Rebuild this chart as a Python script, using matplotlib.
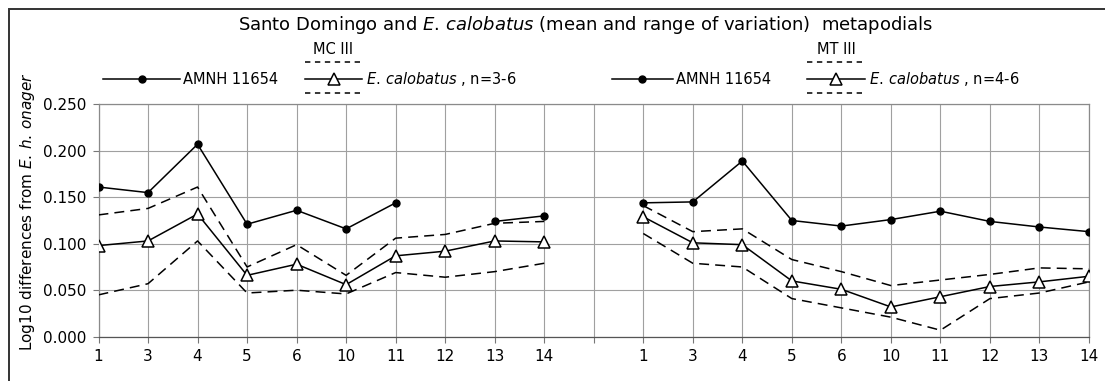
import numpy as np
import matplotlib
matplotlib.use("Agg")
import matplotlib.pyplot as plt
from matplotlib.lines import Line2D
from matplotlib.patches import Rectangle

plt.rcParams['font.family'] = ['DejaVu Sans']
plt.rcParams['mathtext.fontset'] = 'dejavusans'

# tooth / measurement numbers along the x axis (one blank slot between MC III and MT III)
mc_labels = ['1', '3', '4', '5', '6', '10', '11', '12', '13', '14']
mt_labels = ['1', '3', '4', '5', '6', '10', '11', '12', '13', '14']

# MC III
mc_amnh = [0.161, 0.155, 0.207, 0.121, 0.136, 0.116, 0.144, np.nan, 0.124, 0.130]
mc_mean = [0.098, 0.103, 0.132, 0.066, 0.078, 0.056, 0.087, 0.092, 0.103, 0.102]
mc_high = [0.131, 0.138, 0.161, 0.075, 0.099, 0.066, 0.106, 0.110, 0.122, 0.124]
mc_low = [0.045, 0.057, 0.103, 0.047, 0.050, 0.046, 0.069, 0.064, 0.070, 0.079]

# MT III
mt_amnh = [0.144, 0.145, 0.189, 0.125, 0.119, 0.126, 0.135, 0.124, 0.118, 0.113]
mt_mean = [0.129, 0.101, 0.099, 0.060, 0.051, 0.032, 0.043, 0.054, 0.059, 0.065]
mt_high = [0.141, 0.113, 0.116, 0.083, 0.070, 0.055, 0.061, 0.067, 0.074, 0.073]
mt_low = [0.111, 0.079, 0.075, 0.041, 0.031, 0.021, 0.007, 0.041, 0.047, 0.059]

W, H = 1105, 381
fig = plt.figure(figsize=(W / 100, H / 100), dpi=100)


def px(x, y):
    # pixel position (from top-left) -> figure fraction
    return x / W, 1 - y / H


ax = fig.add_axes([98.5 / W, 1 - 336.7 / H, (1089 - 98.5) / W, (336.7 - 104.3) / H])

tick_labels = mc_labels + [''] + mt_labels
x_all = np.arange(len(tick_labels))
x_mc = x_all[:len(mc_labels)]
x_mt = x_all[len(mc_labels) + 1:]

lw = 1.1
dash = (0, (6.5, 4))
for xs, amnh, mean, hi, lo in [(x_mc, mc_amnh, mc_mean, mc_high, mc_low),
                               (x_mt, mt_amnh, mt_mean, mt_high, mt_low)]:
    ax.plot(xs, hi, color='black', lw=lw, ls=dash, zorder=3)
    ax.plot(xs, lo, color='black', lw=lw, ls=dash, zorder=3)
    ax.plot(xs, mean, color='black', lw=lw, marker='^', ms=8, mfc='white',
            mec='black', mew=1.1, zorder=4)
    ax.plot(xs, amnh, color='black', lw=lw, marker='o', ms=5, mfc='black',
            mec='black', zorder=5)

ax.set_xlim(0, len(tick_labels) - 1)
ax.set_ylim(0, 0.25)
ax.set_xticks(x_all)
ax.set_xticklabels(tick_labels)
ax.set_yticks(np.arange(0, 0.2501, 0.05))
ax.set_yticklabels([f'{v:.3f}' for v in np.arange(0, 0.2501, 0.05)])
ax.grid(True, color='#a0a0a0', lw=0.8)
ax.set_axisbelow(True)
ax.tick_params(direction='out', length=4, width=0.8, color='#777777',
               labelsize=11, pad=5)
for s in ax.spines.values():
    s.set_color('#8a8a8a')
    s.set_linewidth(0.9)
ax.spines['bottom'].set_color('#555555')

# y label
fig.text(*px(28, 212), r'Log10 differences from $\mathit{E.\,h.\,onager}$',
         rotation=90, ha='center', va='center', fontsize=11)

# title
fig.text(*px(586, 25),
         r'Santo Domingo and $\mathit{E.\,calobatus}$ (mean and range of variation)  metapodials',
         ha='center', va='center', fontsize=13)

# frame around the whole chart (cropped at right and bottom)
fig.patches.append(Rectangle(px(9, 400), (W + 20) / W, 391 / H, transform=fig.transFigure,
                             fill=False, ec='#333333', lw=1.4))


def legend_amnh(x0, x1, y, label):
    xa, ya = px(x0, y)
    xb, _ = px(x1, y)
    fig.lines.append(Line2D([xa, xb], [ya, ya], transform=fig.transFigure,
                            color='black', lw=lw))
    fig.lines.append(Line2D([(xa + xb) / 2], [ya], transform=fig.transFigure,
                            marker='o', ms=5, color='black'))
    fig.text(xb + 3 / W, ya, label, ha='left', va='center', fontsize=10.5)


def legend_calobatus(x0, x1, y, label, group):
    xa, ya = px(x0, y)
    xb, _ = px(x1, y)
    for dy in (-17, 14):
        _, yd = px(x0, y + dy)
        fig.lines.append(Line2D([xa, xb], [yd, yd], transform=fig.transFigure,
                                color='black', lw=lw, ls=(0, (3.5, 3))))
    fig.lines.append(Line2D([xa, xb], [ya, ya], transform=fig.transFigure,
                            color='black', lw=lw))
    fig.lines.append(Line2D([(xa + xb) / 2], [ya], transform=fig.transFigure,
                            marker='^', ms=8, mfc='white', mec='black', mew=1.1))
    fig.text(xb + 4 / W, ya, label, ha='left', va='center', fontsize=10.5)
    _, yg = px(x0, 50)
    fig.text((xa + xb) / 2, yg, group, ha='center', va='center', fontsize=10.5)


legend_amnh(103, 180, 79, 'AMNH 11654')
legend_calobatus(305, 362, 79, r'$\mathit{E.\,calobatus}$ , n=3-6', 'MC III')
legend_amnh(612, 673, 79, 'AMNH 11654')
legend_calobatus(807, 865, 79, r'$\mathit{E.\,calobatus}$ , n=4-6', 'MT III')

fig.savefig('out.png', dpi=100)
